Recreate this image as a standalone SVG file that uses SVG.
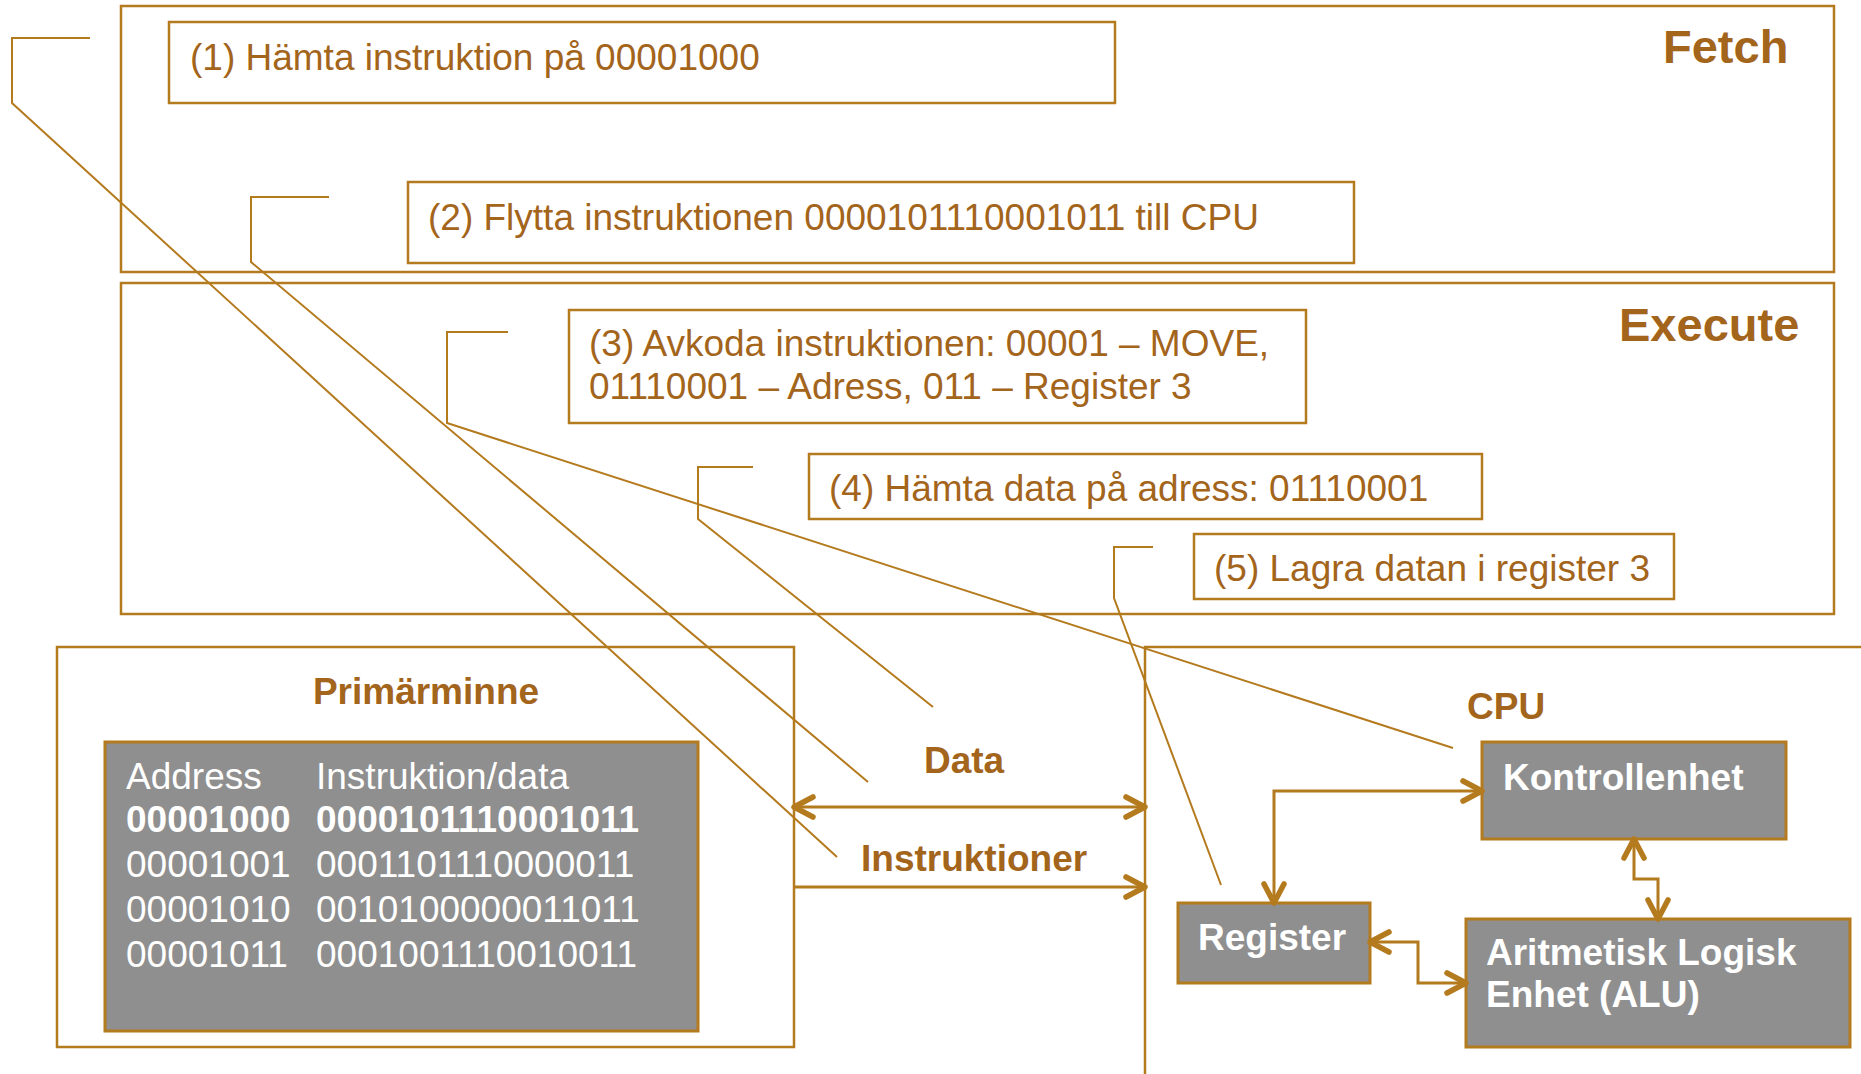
<svg xmlns="http://www.w3.org/2000/svg" width="1861" height="1074" viewBox="0 0 1861 1074">
<style>
  .frame { fill: none; stroke: #b47a1e; stroke-width: 2.5; }
  .box { fill: #ffffff; stroke: #b47a1e; stroke-width: 2.5; }
  .gbox { fill: #8f8f8f; stroke: #b47a1e; stroke-width: 3; }
  .t { font-family: "Liberation Sans", Arial, sans-serif; font-size: 37px; fill: #a3641b; }
  .tb { font-family: "Liberation Sans", Arial, sans-serif; font-size: 37px; font-weight: bold; fill: #a3641b; }
  .th { font-family: "Liberation Sans", Arial, sans-serif; font-size: 47px; font-weight: bold; fill: #a3641b; }
  .w { font-family: "Liberation Sans", Arial, sans-serif; font-size: 37px; fill: #ffffff; }
  .wb { font-family: "Liberation Sans", Arial, sans-serif; font-size: 37px; font-weight: bold; fill: #ffffff; }
  .call { fill: none; stroke: #b47a1e; stroke-width: 2; }
  .arr { fill: none; stroke: #b47a1e; stroke-width: 3; }
</style>
<defs>
  <marker id="chev" markerUnits="userSpaceOnUse" viewBox="-26 -15 30 30" refX="0" refY="0" markerWidth="30" markerHeight="30" orient="auto-start-reverse" overflow="visible">
    <path d="M -19 -10 L 0 0 L -19 10" fill="none" stroke="#b47a1e" stroke-width="5.5" stroke-linecap="round" stroke-linejoin="round"/>
  </marker>
</defs>
<rect width="1861" height="1074" fill="#ffffff"/>

<g id="fetch">
  <rect class="frame" x="121" y="6" width="1713" height="266"/>
  <text class="th" x="1663" y="63">Fetch</text>
</g>
<g id="execute">
  <rect class="frame" x="121" y="283" width="1713" height="331"/>
  <text class="th" x="1619" y="341">Execute</text>
</g>

<g id="step1">
  <rect class="box" x="169" y="22" width="946" height="81"/>
  <text class="t" x="190" y="70">(1) Hämta instruktion på 00001000</text>
</g>
<g id="step2">
  <rect class="box" x="408" y="182" width="946" height="81"/>
  <text class="t" x="428" y="230">(2) Flytta instruktionen 0000101110001011 till CPU</text>
</g>
<g id="step3">
  <rect class="box" x="569" y="310" width="737" height="113"/>
  <text class="t" x="589" y="356">(3) Avkoda instruktionen: 00001 – MOVE,</text>
  <text class="t" x="589" y="399">01110001 – Adress, 011 – Register 3</text>
</g>
<g id="step4">
  <rect class="box" x="809" y="454" width="673" height="65"/>
  <text class="t" x="829" y="501">(4) Hämta data på adress: 01110001</text>
</g>
<g id="step5">
  <rect class="box" x="1194" y="534" width="480" height="65"/>
  <text class="t" x="1214" y="581">(5) Lagra datan i register 3</text>
</g>

<g id="primarminne">
  <rect class="frame" x="57" y="647" width="737" height="400"/>
  <text class="tb" x="426" y="704" text-anchor="middle">Primärminne</text>
</g>
<g id="minnestabell">
  <rect class="gbox" x="105" y="742" width="593" height="289"/>
  <text class="w" x="126" y="789">Address</text>
  <text class="w" x="316" y="789">Instruktion/data</text>
  <text class="wb" x="126" y="832">00001000</text>
  <text class="wb" x="316" y="832">0000101110001011</text>
  <text class="w" x="126" y="877">00001001</text>
  <text class="w" x="316" y="877">0001101110000011</text>
  <text class="w" x="126" y="922">00001010</text>
  <text class="w" x="316" y="922">0010100000011011</text>
  <text class="w" x="126" y="967">00001011</text>
  <text class="w" x="316" y="967">0001001110010011</text>
</g>

<g id="cpu">
  <rect class="frame" x="1145" y="647" width="800" height="500"/>
  <text class="tb" x="1467" y="719">CPU</text>
</g>
<g id="kontrollenhet">
  <rect class="gbox" x="1482" y="742" width="304" height="97"/>
  <text class="wb" x="1503" y="790">Kontrollenhet</text>
</g>
<g id="register">
  <rect class="gbox" x="1178" y="903" width="192" height="80"/>
  <text class="wb" x="1198" y="950">Register</text>
</g>
<g id="alu">
  <rect class="gbox" x="1466" y="919" width="384" height="128"/>
  <text class="wb" x="1486" y="965">Aritmetisk Logisk</text>
  <text class="wb" x="1486" y="1007">Enhet (ALU)</text>
</g>

<g id="buslabels">
  <text class="tb" x="924" y="773">Data</text>
  <text class="tb" x="861" y="871">Instruktioner</text>
</g>

<g id="connectors">
  <line class="arr" x1="794" y1="807" x2="1145" y2="807" marker-start="url(#chev)" marker-end="url(#chev)"/>
  <line class="arr" x1="794" y1="887" x2="1145" y2="887" marker-end="url(#chev)"/>
  <polyline class="arr" points="1482,791 1274,791 1274,903" marker-start="url(#chev)" marker-end="url(#chev)"/>
  <polyline class="arr" points="1634,839 1634,879 1658,879 1658,919" marker-start="url(#chev)" marker-end="url(#chev)"/>
  <polyline class="arr" points="1370,942 1418,942 1418,983 1466,983" marker-start="url(#chev)" marker-end="url(#chev)"/>

  <polyline class="call" points="90,38 12,38 12,103 837,857"/>
  <polyline class="call" points="329,197 251,197 251,262 868,782"/>
  <polyline class="call" points="508,332 447,332 447,423 1453,748"/>
  <polyline class="call" points="753,467 698,467 698,519 933,707"/>
  <polyline class="call" points="1153,547 1114,547 1114,598 1221,885"/>
</g>
</svg>
